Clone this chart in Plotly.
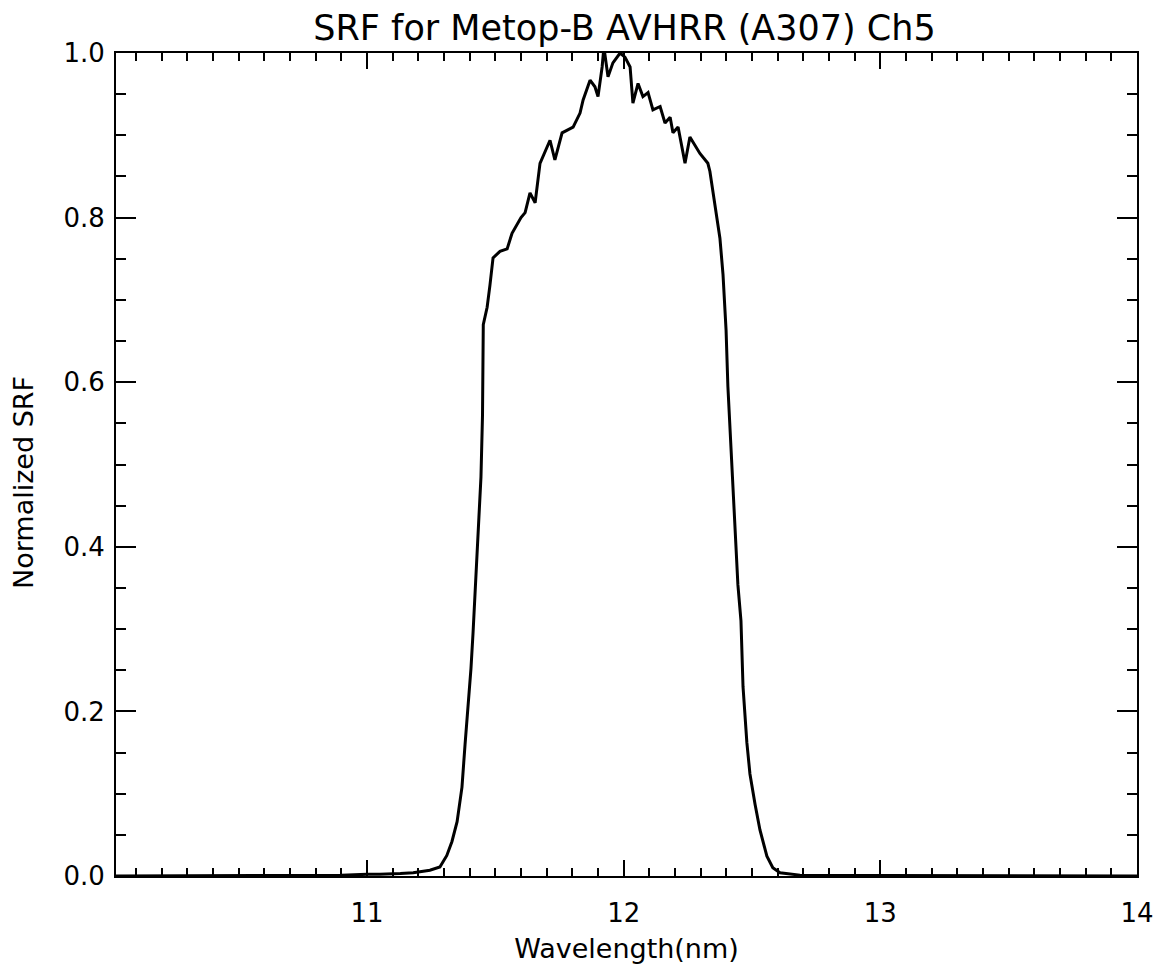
import plotly.graph_objects as go

# SRF curve
wavelength = [10.02, 10.50, 10.90, 11.00, 11.05, 11.13, 11.18, 11.245, 11.284, 11.311,
              11.331, 11.351, 11.370, 11.382, 11.394, 11.405, 11.413, 11.421, 11.429, 11.436,
              11.444, 11.450, 11.453, 11.468, 11.479, 11.491, 11.518, 11.546, 11.565, 11.589,
              11.600, 11.616, 11.635, 11.655, 11.674, 11.713, 11.732, 11.760, 11.803, 11.830,
              11.842, 11.869, 11.888, 11.900, 11.916, 11.923, 11.939, 11.958, 11.986, 12.005,
              12.025, 12.036, 12.056, 12.075, 12.095, 12.114, 12.142, 12.161, 12.181, 12.192,
              12.212, 12.239, 12.258, 12.297, 12.328, 12.336, 12.356, 12.375, 12.387, 12.399,
              12.406, 12.418, 12.426, 12.438, 12.445, 12.457, 12.465, 12.480, 12.492, 12.512,
              12.531, 12.558, 12.581, 12.609, 12.687, 13.0, 14.0]
srf = [0.0, 0.0005, 0.001, 0.002, 0.002, 0.003, 0.004, 0.007, 0.011, 0.025,
       0.042, 0.066, 0.108, 0.160, 0.207, 0.252, 0.295, 0.339, 0.388, 0.436,
       0.485, 0.560, 0.670, 0.691, 0.718, 0.751, 0.759, 0.762, 0.781, 0.794,
       0.800, 0.806, 0.830, 0.818, 0.866, 0.894, 0.870, 0.903, 0.910, 0.927,
       0.943, 0.967, 0.959, 0.947, 0.983, 1.007, 0.971, 0.988, 1.000, 0.995,
       0.983, 0.939, 0.963, 0.947, 0.952, 0.931, 0.935, 0.915, 0.922, 0.903,
       0.910, 0.866, 0.898, 0.878, 0.866, 0.856, 0.813, 0.775, 0.731, 0.663,
       0.595, 0.521, 0.471, 0.397, 0.354, 0.310, 0.230, 0.162, 0.124, 0.087,
       0.056, 0.024, 0.010, 0.004, 0.001, 0.0005, 0.0]

FONT = "DejaVu Sans, sans-serif"

fig = go.Figure()
fig.add_trace(go.Scatter(x=wavelength, y=srf, mode="lines",
                         line=dict(color="black", width=3), showlegend=False))

# page body has an 8px margin, so the figure is 16px smaller than the window
fig.update_layout(
    width=1147, height=956,
    margin=dict(l=108, r=18, t=45, b=88),
    paper_bgcolor="white", plot_bgcolor="white",
    font=dict(family=FONT, color="black", size=26),
    title=dict(text="SRF for Metop-B AVHRR (A307) Ch5", x=0.5375, xanchor="center",
               y=0.992, yanchor="top", font=dict(size=35, family=FONT)),
)

fig.add_annotation(text="Normalized SRF", textangle=-90, showarrow=False,
                   xref="paper", yref="paper", x=0, y=0.4775, xanchor="center",
                   yanchor="middle", xshift=-93, font=dict(size=27, family=FONT))

fig.update_xaxes(
    range=[10.022, 14], dtick=1, tick0=10, ticks="inside", ticklen=16, tickwidth=2,
    tickcolor="black", showline=True, linecolor="black", linewidth=2, mirror="ticks",
    showgrid=False, zeroline=False, ticklabelstandoff=13, tickfont=dict(size=26),
    minor=dict(dtick=0.1, ticks="inside", ticklen=8, tickwidth=2, tickcolor="black", showgrid=False),
    title=dict(text="Wavelength(nm)", font=dict(size=27), standoff=12),
    automargin=False,
)
fig.update_yaxes(
    range=[0, 1.0], dtick=0.2, tick0=0, tickformat=".1f", ticks="inside", ticklen=20, tickwidth=2,
    tickcolor="black", showline=True, linecolor="black", linewidth=2, mirror="ticks",
    showgrid=False, zeroline=False, ticklabelstandoff=4, tickfont=dict(size=26),
    minor=dict(dtick=0.05, ticks="inside", ticklen=10, tickwidth=2, tickcolor="black", showgrid=False),
    automargin=False,
)

fig.write_html("out.html")
